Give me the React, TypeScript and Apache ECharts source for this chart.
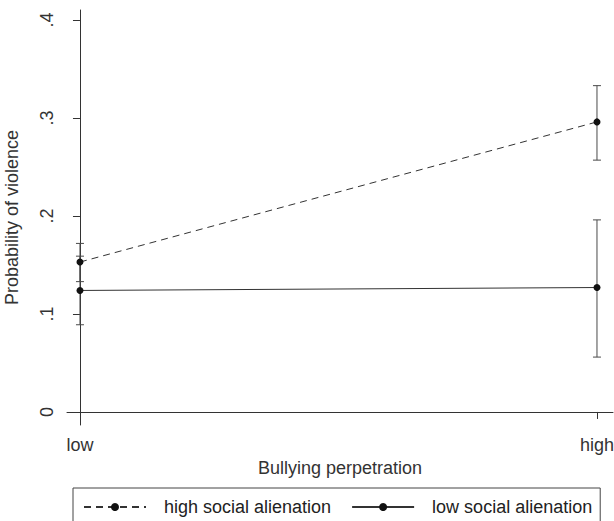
import React, { useEffect, useRef } from "react";
import * as echarts from "echarts";

const categories = ["low", "high"];
const xPositions = [0, 1];
const yTicks = [0, 0.1, 0.2, 0.3, 0.4];
const yTickLabels = ["0", ".1", ".2", ".3", ".4"];

const highAlienation = [0.153, 0.296];
const highAlienationLower = [0.133, 0.257];
const highAlienationUpper = [0.172, 0.333];

const lowAlienation = [0.124, 0.127];
const lowAlienationLower = [0.089, 0.056];
const lowAlienationUpper = [0.159, 0.196];

const FONT = "'Liberation Sans', Arial, sans-serif";

export default function App() {
  const ref = useRef<HTMLDivElement>(null);
  useEffect(() => {
    if (!ref.current) return;
    const chart = echarts.init(ref.current, null, { renderer: "svg" });

    const errData = (lo: number[], hi: number[]) =>
      xPositions.map((x, i) => [x, lo[i], hi[i]]);

    const renderErr = (params: any, api: any) => {
      const x = api.value(0);
      const lo = api.coord([x, api.value(1)]);
      const hi = api.coord([x, api.value(2)]);
      const cap = 4;
      const style = { stroke: "#4a4a4a", lineWidth: 1 };
      return {
        type: "group",
        children: [
          { type: "line", shape: { x1: lo[0], y1: lo[1], x2: hi[0], y2: hi[1] }, style },
          { type: "line", shape: { x1: lo[0] - cap, y1: lo[1], x2: lo[0] + cap, y2: lo[1] }, style },
          { type: "line", shape: { x1: hi[0] - cap, y1: hi[1], x2: hi[0] + cap, y2: hi[1] }, style },
        ],
      };
    };

    chart.setOption({
      animation: false,
      backgroundColor: "#ffffff",
      textStyle: { fontFamily: FONT },
      grid: { left: 67, right: 1, top: 10, bottom: 96, containLabel: false, outerBoundsMode: "none" },
      xAxis: {
        type: "value",
        min: -0.0251,
        max: 1.031,
        name: "Bullying perpetration",
        nameLocation: "middle",
        nameGap: 32,
        nameTextStyle: { fontSize: 18, color: "#333", fontFamily: FONT },
        axisLine: { show: true, lineStyle: { color: "#333", width: 1 } },
        axisTick: { show: true, length: 7, customValues: xPositions, lineStyle: { color: "#333" } },
        axisLabel: {
          show: true,
          customValues: xPositions,
          margin: 11,
          fontSize: 18,
          color: "#333",
          fontFamily: FONT,
          formatter: (v: number) => categories[Math.round(v)] ?? "",
        },
        splitLine: { show: false },
      },
      yAxis: {
        type: "value",
        min: -0.0133,
        max: 0.4102,
        name: "Probability of violence",
        nameLocation: "middle",
        nameGap: 46,
        nameRotate: 90,
        nameTextStyle: { fontSize: 18, color: "#333", fontFamily: FONT },
        axisLine: { show: true, lineStyle: { color: "#333", width: 1 } },
        axisTick: { show: true, length: 7, customValues: yTicks, lineStyle: { color: "#333" } },
        axisLabel: {
          show: true,
          customValues: yTicks,
          rotate: 90,
          margin: 11,
          fontSize: 18,
          color: "#333",
          fontFamily: FONT,
          formatter: (v: number) => {
            const i = yTicks.findIndex((t) => Math.abs(t - v) < 1e-6);
            return i >= 0 ? yTickLabels[i] : "";
          },
        },
        splitLine: { show: false },
      },
      legend: {
        data: ["high social alienation", "low social alienation"],
        left: 73,
        top: 488,
        orient: "horizontal",
        itemWidth: 62,
        itemHeight: 10,
        itemGap: 20,
        padding: [10, 8, 10, 10],
        borderColor: "#444",
        borderWidth: 1,
        textStyle: { fontSize: 18, color: "#222", fontFamily: FONT, padding: [0, 0, 0, 13] },
      },
      series: [
        {
          name: "high-err",
          type: "custom",
          renderItem: renderErr,
          data: errData(highAlienationLower, highAlienationUpper),
          z: 1,
          silent: true,
        },
        {
          name: "low-err",
          type: "custom",
          renderItem: renderErr,
          data: errData(lowAlienationLower, lowAlienationUpper),
          z: 1,
          silent: true,
        },
        {
          name: "high social alienation",
          type: "line",
          data: xPositions.map((x, i) => [x, highAlienation[i]]),
          symbol: "circle",
          symbolSize: 7,
          itemStyle: { color: "#111" },
          lineStyle: { color: "#333", width: 1, type: [7, 5] },
          z: 3,
        },
        {
          name: "low social alienation",
          type: "line",
          data: xPositions.map((x, i) => [x, lowAlienation[i]]),
          symbol: "circle",
          symbolSize: 7,
          itemStyle: { color: "#111" },
          lineStyle: { color: "#333", width: 1, type: "solid" },
          z: 3,
        },
      ],
    });
    return () => chart.dispose();
  }, []);

  return <div ref={ref} style={{ width: 614, height: 521, position: "absolute", left: 0, top: 0 }} />;
}
